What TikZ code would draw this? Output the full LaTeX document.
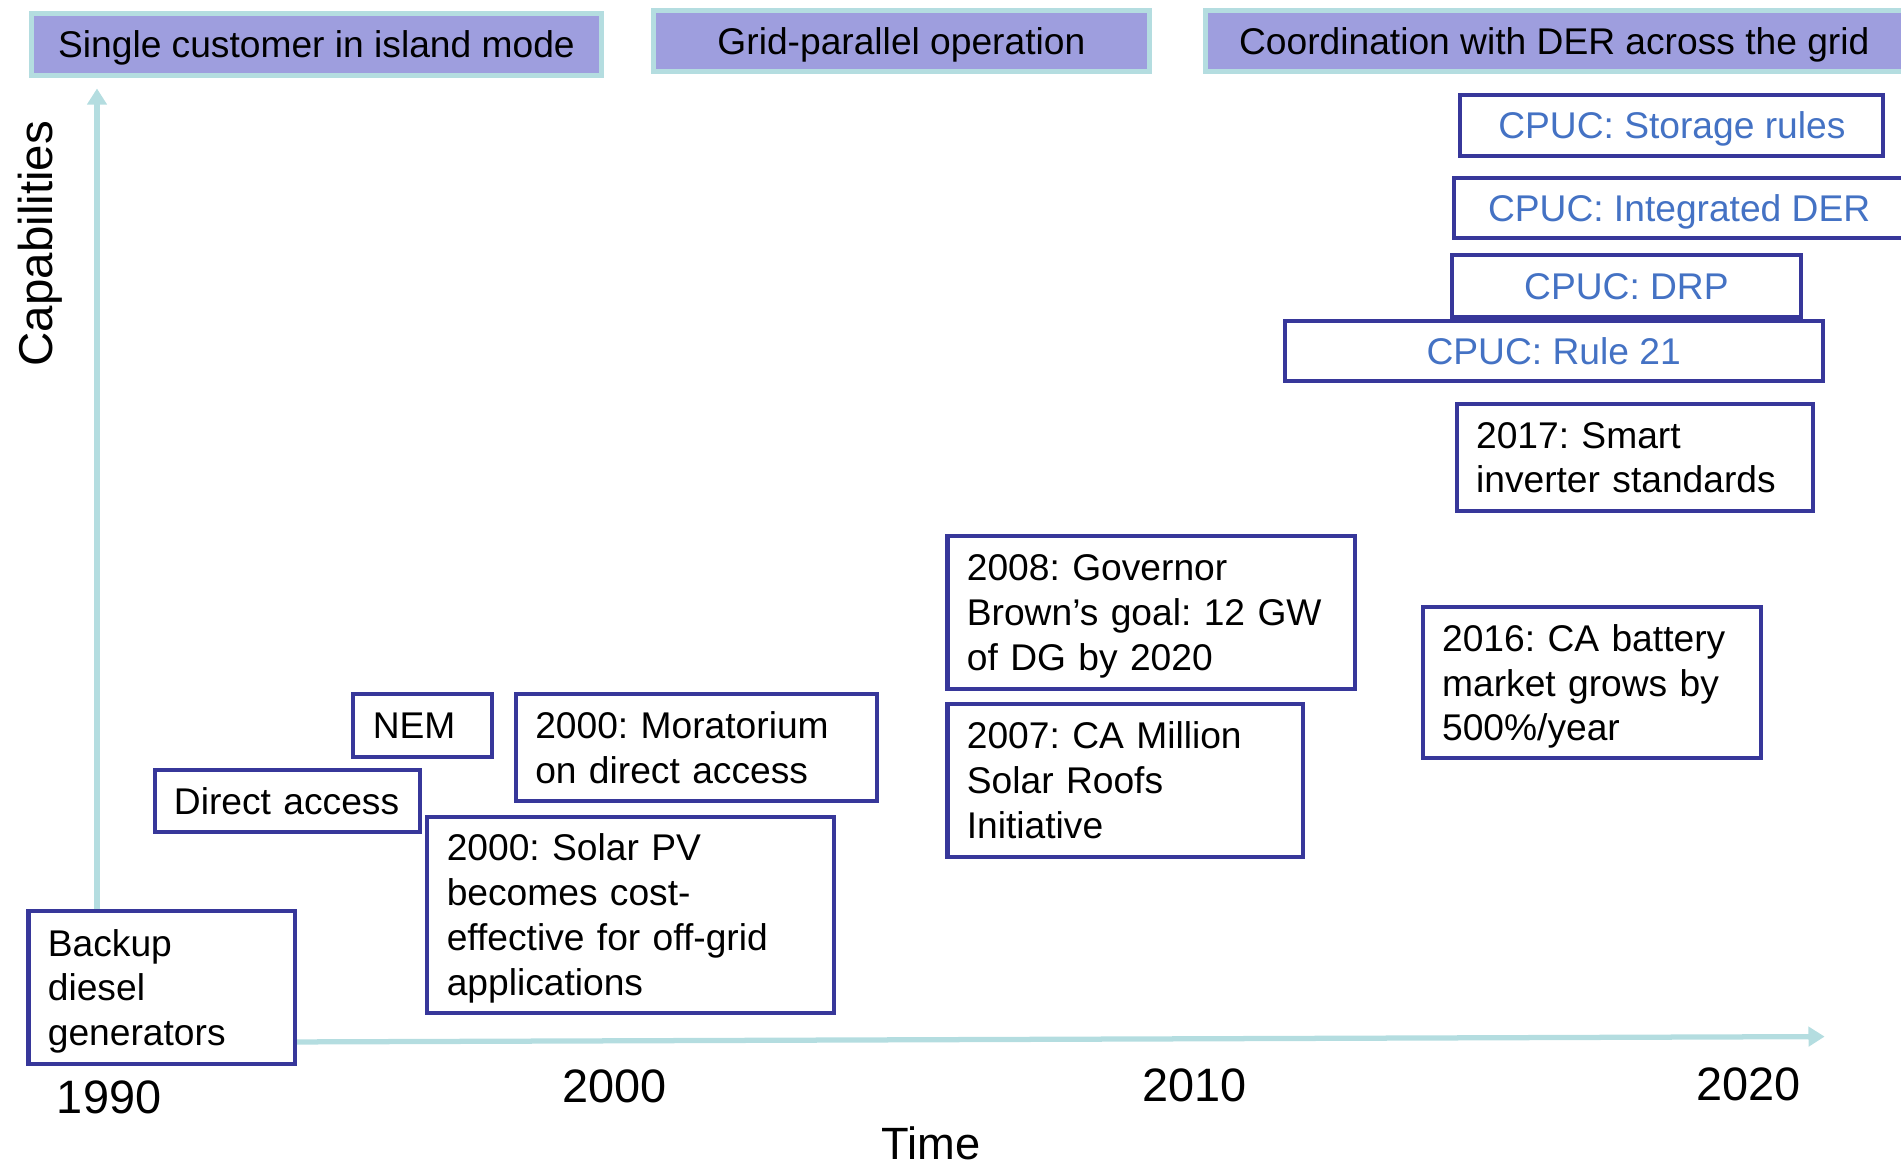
\documentclass[tikz,border=0pt]{standalone}
\usepackage{fontspec}
\setmainfont{Liberation Sans}
\usetikzlibrary{arrows.meta}
\definecolor{evborder}{HTML}{37379A}
\definecolor{axiscol}{HTML}{B4DDE0}
\definecolor{headfill}{HTML}{9E9EDE}
\definecolor{cpuctext}{HTML}{4472C4}
\frenchspacing
\newcommand\flatline[1]{\raisebox{0pt}[\height][0pt]{#1}}
\begin{document}
\begin{tikzpicture}[x=0.6pt,y=-0.6pt,
  every node/.style={font=\fontsize{18.4}{22.2}\selectfont, text=black},
  dims/.style 2 args={minimum width=#1*0.6pt, minimum height=#2*0.6pt},
  headbox/.style={draw=axiscol, fill=headfill, line width=2.4pt, inner sep=0pt, text height=13.3pt, text depth=0pt},
  evbox/.style={draw=evborder, fill=white, line width=2pt, inner xsep=9.6pt, inner ysep=0pt, align=left},
  cpucbox/.style={draw=evborder, fill=white, line width=2pt, inner sep=0pt, text=cpuctext, text height=13.3pt, text depth=0pt},
  axis/.style={draw=axiscol, line width=2.6pt, -{Triangle[length=8pt,width=9.5pt]}},
  yearlbl/.style={font=\fontsize{23.2}{26}\selectfont},
]
\useasboundingbox (0,0) rectangle (1568,964);

% axes
\coordinate (origin) at (80,860);
\coordinate (ytip) at (80,73);
\coordinate (xtip) at (1505,855);
\draw[axis] (origin) -- (ytip);
\draw[axis] (origin) -- (xtip);

% headings
\node[headbox, dims={470}{51}] (h1) at (261,36.5) {Single customer in island mode};
\node[headbox, dims={409}{50}] (h2) at (743.5,34) {Grid-parallel operation};
\node[headbox, dims={576}{50}] (h3) at (1282,34) {Coordination with DER across the grid};

% CPUC boxes
\node[cpucbox, dims={349}{50}] (storage) at (1379,103.5) {CPUC: Storage rules};
\node[cpucbox, dims={371}{50}] (ider) at (1385,171.5) {CPUC: Integrated DER};
\node[cpucbox, dims={288}{51}] (drp) at (1341.5,236) {CPUC: DRP};
\node[cpucbox, dims={444}{50}] (rule21) at (1281.5,289.5) {CPUC: Rule 21};

% event boxes
\node[evbox, dims={294}{88}, text width=157.2pt] (smart) at (1348.5,377.5) {2017: Smart\\inverter standards};
\node[evbox, dims={336}{126}, text width=182.4pt] (gov) at (949.5,505.5) {2008: Governor\\Brown’s goal: 12 GW\\\flatline{of DG by 2020}};
\node[evbox, dims={293}{126}, text width=156.6pt] (million) at (928,643.5) {2007: CA Million\\Solar Roofs\\Initiative};
\node[evbox, dims={279}{125}, text width=148.2pt] (battery) at (1313,563) {2016: CA battery\\market grows by\\\flatline{500\%/year}};
\node[evbox, dims={114}{52}, text width=49.2pt] (nem) at (348.5,598.5) {NEM};
\node[evbox, dims={298}{88}, text width=159.6pt] (morat) at (574.5,616.5) {2000: Moratorium\\on direct access};
\node[evbox, dims={219}{51}, text width=112.2pt] (direct) at (237,661) {Direct~access};
\node[evbox, dims={335}{162}, text width=181.8pt] (solar) at (520,754.5) {2000: Solar PV\\becomes cost-\\effective for off-grid\\\flatline{applications}};
\node[evbox, dims={220}{126}, text width=112.8pt] (backup) at (133.5,814.5) {Backup\\diesel\\\flatline{generators}};

% axis labels
\node[font=\fontsize{23.5}{26}\selectfont, rotate=90] (cap) at (33,201) {Capabilities};
\node[font=\fontsize{22.4}{26}\selectfont] (time) at (768,943) {Time};
\node[yearlbl] (y1990) at (90,905) {1990};
\node[yearlbl] (y2000) at (507,896) {2000};
\node[yearlbl] (y2010) at (985,895) {2010};
\node[yearlbl] (y2020) at (1442,894) {2020};
\end{tikzpicture}
\end{document}
